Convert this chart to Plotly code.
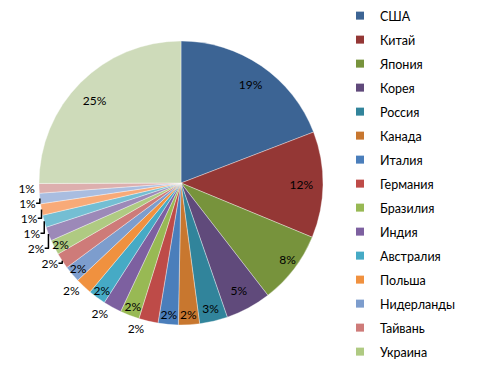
import plotly.graph_objects as go

labels = ["США", "Китай", "Япония", "Корея", "Россия", "Канада", "Италия",
          "Германия", "Бразилия", "Индия", "Австралия", "Польша", "Нидерланды",
          "Тайвань", "Украина", "Испания", "Франция", "Мексика", "Турция",
          "Швеция", "Другие"]
values = [19.2, 12.1, 8.3, 5.2, 3.2, 2.4, 2.3, 2.2, 2.2, 2.1, 2.0, 1.9, 1.9,
          1.8, 1.7, 1.6, 1.4, 1.3, 1.2, 1.1, 25.1]
colors = ["#3C6494", "#943735", "#77933C", "#604A7B", "#31849B", "#C8772F",
          "#4A7EBB", "#BE4B48", "#98B954", "#7D60A0", "#46AAC5", "#F0913F",
          "#7D9DCD", "#CE7B79", "#AFCA82", "#9C89B8", "#74BED3", "#F8AA78",
          "#A9BDE0", "#DDAFAE", "#CEDBBA"]
text_pos = ["inside"] * 7 + ["outside", "inside", "outside", "inside", "outside",
                             "inside", "outside", "inside", "outside",
                             "outside", "outside", "outside", "outside", "inside"]
legend_count = 15

FONT = "Lato, 'Liberation Sans', sans-serif"
W, H = 486, 373
PAGE = 8  # the page's own body margin offsets the figure by this many px
NB = "\u00a0"
PCT = "%{percent:.0%}"
# label templates: padding nudges the big-slice labels outward like the original
templates = [PCT] * len(labels)
templates[0] = NB * 12 + PCT + ("<br>" + NB) * 3
templates[1] = NB * 11 + PCT
templates[2] = NB + "<br>" + NB * 11 + PCT
templates[20] = PCT + NB * 18 + ("<br>" + NB) * 3

cx, cy, R = 181 - PAGE, 183 - PAGE, 142

fig = go.Figure()
fig.add_trace(go.Pie(
    labels=labels, values=values, sort=False, direction="clockwise", rotation=0,
    marker=dict(colors=colors, line=dict(color="rgba(255,255,255,0.6)", width=0.6)),
    texttemplate=templates, textposition=text_pos,
    insidetextorientation="horizontal",
    textfont=dict(family=FONT, size=12, color="#000000"),
    showlegend=False,
    domain=dict(x=[(cx - R) / W, (cx + R) / W], y=[1 - (cy + R) / H, 1 - (cy - R) / H]),
))

for i in range(legend_count):
    fig.add_trace(go.Scatter(
        x=[None], y=[None], mode="markers", name=labels[i],
        marker=dict(symbol="square", size=8, color=colors[i]),
        legendgroup="g%d" % i, showlegend=True,
    ))

fig.update_layout(
    width=W, height=H,
    margin=dict(l=0, r=0, t=0, b=0, autoexpand=False),
    paper_bgcolor="white", plot_bgcolor="white",
    font=dict(family=FONT, size=12, color="#000000"),
    uniformtext=dict(minsize=12, mode="show"),
    xaxis=dict(visible=False), yaxis=dict(visible=False),
    legend=dict(x=332 / W, xanchor="left", y=1 + 7 / H, yanchor="top",
                tracegroupgap=4.75, font=dict(family=FONT, size=12.5, color="#000000"),
                bgcolor="rgba(0,0,0,0)"),
    shapes=[
        dict(type="line", xref="paper", yref="paper", x0=(485 - PAGE) / W, x1=(485 - PAGE) / W,
             y0=0, y1=1, line=dict(color="#8C8C8C", width=1.5)),
    ],
)
try:
    fig.update_layout(legend_maxheight=420)
except Exception:
    fig.update_layout(legend_y=1.0, legend_tracegroupgap=4.5)

fig.write_html("out.html")
